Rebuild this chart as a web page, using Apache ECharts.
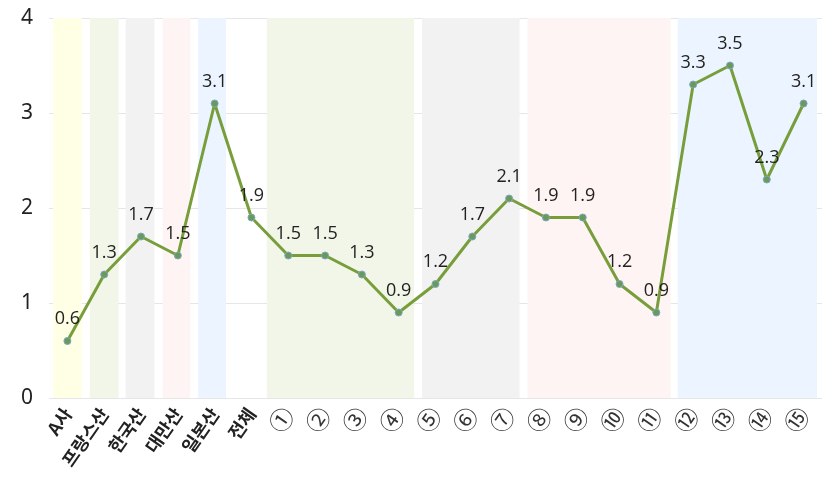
<!DOCTYPE html>
<html><head><meta charset="utf-8">
<script src="https://cdn.jsdelivr.net/npm/echarts@6/dist/echarts.min.js"></script>
<style>html,body{margin:0;padding:0;background:#fff}#c{width:822px;height:485px}</style>
</head><body><div id="c"></div>
<script>
const categories = ['A사','프랑스산','한국산','대만산','일본산','전체','①','②','③','④','⑤','⑥','⑦','⑧','⑨','⑩','⑪','⑫','⑬','⑭','⑮'];
const values = [0.6,1.3,1.7,1.5,3.1,1.9,1.5,1.5,1.3,0.9,1.2,1.7,2.1,1.9,1.9,1.2,0.9,3.3,3.5,2.3,3.1];
const yTicks = [0,1,2,3,4];
// bands: start/end category index, colour, left/right inset
const bandStart = [0,1,2,3,4,6,10,13,17];
const bandEnd   = [0,1,2,3,4,9,12,16,20];
const bandColor = ['#FFFFE6','#F1F6E8','#F2F2F2','#FFF4F4','#EBF4FF','#F1F6E8','#F2F2F2','#FFF4F4','#EBF4FF'];
const bandInsetL = [4,4,3,3,2,-3,5,0,3];
const bandInsetR = [4,4,5,6,7,3,8,4,5];
const bandData = bandStart.map((s,i)=>[s,bandEnd[i],bandColor[i],bandInsetL[i],bandInsetR[i]]);

const chart = echarts.init(document.getElementById('c'),null,{renderer:'canvas'});
chart.setOption({
  animation:false,
  grid:{left:49,right:0,top:18,bottom:87},
  xAxis:{type:'category',data:categories,boundaryGap:true,
    axisLine:{show:false},axisTick:{show:false},
    axisLabel:{rotate:55,interval:0,color:'#222',fontSize:18,fontWeight:'bold',margin:12,fontFamily:'Noto Sans CJK KR',
      formatter:function(v){return /^[①-⑳]$/.test(v)?'{c|'+v+'}':v;},
      rich:{c:{fontSize:24,fontWeight:'normal',color:'#333',fontFamily:'Noto Sans CJK KR'}}}},
  yAxis:{type:'value',min:0,max:4,interval:1,
    axisLine:{show:false},axisTick:{show:false},
    splitLine:{lineStyle:{color:'#E6E6E6',width:1}},
    axisLabel:{color:'#222',fontSize:21,margin:22,fontFamily:'Noto Sans',align:'center'}},
  series:[
    {type:'custom',z:1,silent:true,data:bandData,
     renderItem:function(params,api){
       const s=api.value(0), e=api.value(1);
       const w=api.size([1,0])[0];
       const p0=api.coord([s,4]), p1=api.coord([e,0]);
       const b=bandData[params.dataIndex];
       const x0=p0[0]-w/2+b[3], x1=p1[0]+w/2-b[4];
       return {type:'rect',shape:{x:x0,y:p0[1],width:x1-x0,height:p1[1]-p0[1]},
         style:{fill:b[2]}};
     }},
    {type:'line',z:5,data:values,symbol:'circle',symbolSize:7,
     lineStyle:{color:'#789E3B',width:3},
     itemStyle:{color:'#6A9A5A',borderColor:'#7FA6C2',borderWidth:1},
     label:{show:true,position:'top',distance:9,color:'#222',fontSize:18,fontFamily:'Open Sans'}}
  ]
});
</script></body></html>
